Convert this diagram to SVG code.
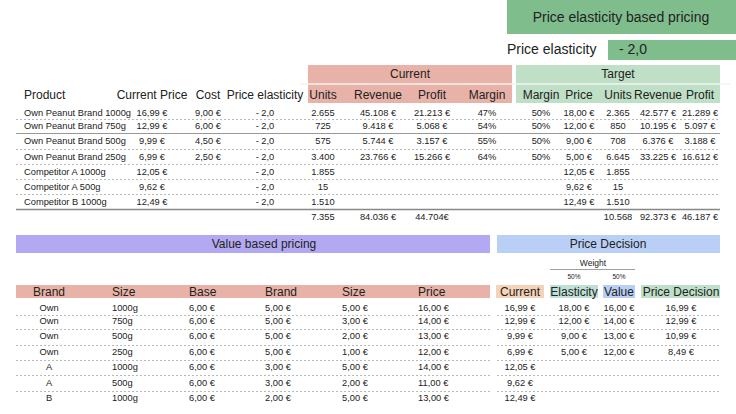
<svg xmlns="http://www.w3.org/2000/svg" width="736" height="414" viewBox="0 0 736 414">
<style>
text{font-family:"Liberation Sans",Arial,sans-serif;fill:#222}
.h{font-size:12px}
.d{font-size:9.3px}
.m{text-anchor:middle}
.r{text-anchor:end}
.ds{stroke:#999;stroke-width:0.7;stroke-dasharray:2,2}
.sl{stroke:#999;stroke-width:1}
</style>
<rect width="736" height="414" fill="#fff"/>
<g id="top">
<rect x="507" y="0" width="229" height="34" fill="#80bd8c"/>
<text x="621" y="22" class="m" style="font-size:14px">Price elasticity based pricing</text>
<text x="507" y="54" style="font-size:14px">Price elasticity</text>
<rect x="608" y="40" width="128" height="20" fill="#80bd8c"/>
<text x="619" y="54" style="font-size:14px">- 2,0</text>
</g>
<g id="table1">
<rect x="308" y="65" width="204" height="38" fill="#e8b2a8"/>
<rect x="516" y="65" width="204" height="38" fill="#bfdfc6"/>
<line x1="300" y1="84" x2="730" y2="84" stroke="#f3f3f3" stroke-width="1.5"/>
<text x="410" y="78" class="h m">Current</text>
<text x="618" y="78" class="h m">Target</text>
<g class="h">
<text x="24" y="99">Product</text>
<text x="152" y="99" class="m">Current Price</text>
<text x="208" y="99" class="m">Cost</text>
<text x="265" y="99" class="m">Price elasticity</text>
<text x="323" y="99" class="m">Units</text>
<text x="378" y="99" class="m">Revenue</text>
<text x="432" y="99" class="m">Profit</text>
<text x="487" y="99" class="m">Margin</text>
<text x="541" y="99" class="m">Margin</text>
<text x="579" y="99" class="m">Price</text>
<text x="618" y="99" class="m">Units</text>
<text x="658" y="99" class="m">Revenue</text>
<text x="700" y="99" class="m">Profit</text>
</g>
<g class="d">
<text x="24" y="116">Own Peanut Brand 1000g</text>
<text x="24" y="129">Own Peanut Brand 750g</text>
<text x="24" y="144">Own Peanut Brand 500g</text>
<text x="24" y="160">Own Peanut Brand 250g</text>
<text x="24" y="175">Competitor A 1000g</text>
<text x="24" y="190">Competitor  A 500g</text>
<text x="24" y="205">Competitor B 1000g</text>
<g class="m">
<text x="152" y="116">16,99 €</text><text x="152" y="129">12,99 €</text><text x="152" y="144">9,99 €</text><text x="152" y="160">6,99 €</text><text x="152" y="175">12,05 €</text><text x="152" y="190">9,62 €</text><text x="152" y="205">12,49 €</text>
<text x="208" y="116">9,00 €</text><text x="208" y="129">6,00 €</text><text x="208" y="144">4,50 €</text><text x="208" y="160">2,50 €</text>
<text x="265" y="116">- 2,0</text><text x="265" y="129">- 2,0</text><text x="265" y="144">- 2,0</text><text x="265" y="160">- 2,0</text><text x="265" y="175">- 2,0</text><text x="265" y="190">- 2,0</text><text x="265" y="205">- 2,0</text>
<text x="323" y="116">2.655</text><text x="323" y="129">725</text><text x="323" y="144">575</text><text x="323" y="160">3.400</text><text x="323" y="175">1.855</text><text x="323" y="190">15</text><text x="323" y="205">1.510</text><text x="323" y="220">7.355</text>
<text x="378" y="116">45.108 €</text><text x="378" y="129">9.418 €</text><text x="378" y="144">5.744 €</text><text x="378" y="160">23.766 €</text><text x="378" y="220">84.036 €</text>
<text x="432" y="116">21.213 €</text><text x="432" y="129">5.068 €</text><text x="432" y="144">3.157 €</text><text x="432" y="160">15.266 €</text><text x="432" y="220">44.704€</text>
<text x="487" y="116">47%</text><text x="487" y="129">54%</text><text x="487" y="144">55%</text><text x="487" y="160">64%</text>
<text x="541" y="116">50%</text><text x="541" y="129">50%</text><text x="541" y="144">50%</text><text x="541" y="160">50%</text>
<text x="579" y="116">18,00 €</text><text x="579" y="129">12,00 €</text><text x="579" y="144">9,00 €</text><text x="579" y="160">5,00 €</text><text x="579" y="175">12,05 €</text><text x="579" y="190">9,62 €</text><text x="579" y="205">12,49 €</text>
<text x="618" y="116">2.365</text><text x="618" y="129">850</text><text x="618" y="144">708</text><text x="618" y="160">6.645</text><text x="618" y="175">1.855</text><text x="618" y="190">15</text><text x="618" y="205">1.510</text><text x="618" y="220">10.568</text>
<text x="658" y="116">42.577 €</text><text x="658" y="129">10.195 €</text><text x="658" y="144">6.376 €</text><text x="658" y="160">33.225 €</text><text x="658" y="220">92.373 €</text>
<text x="700" y="116">21.289 €</text><text x="700" y="129">5.097 €</text><text x="700" y="144">3.188 €</text><text x="700" y="160">16.612 €</text><text x="700" y="220">46.187 €</text>
</g>
</g>
<line x1="16" y1="119.5" x2="720" y2="119.5" class="ds"/>
<line x1="16" y1="133.5" x2="720" y2="133.5" class="sl"/>
<line x1="16" y1="149.5" x2="720" y2="149.5" class="ds"/>
<line x1="16" y1="164.5" x2="720" y2="164.5" class="ds"/>
<line x1="16" y1="179.5" x2="720" y2="179.5" class="ds"/>
<line x1="16" y1="194.5" x2="720" y2="194.5" class="ds"/>
<line x1="16" y1="209.5" x2="720" y2="209.5" stroke="#888" stroke-width="1.5"/>
</g>
<g id="value">
<rect x="16" y="235" width="474" height="18" fill="#b3a9f2"/>
<text x="264" y="248" class="h m">Value based pricing</text>
<rect x="16" y="285" width="474" height="13" fill="#e8b2a8"/>
<g class="h">
<text x="49" y="295.5" class="m">Brand</text>
<text x="112" y="295.5">Size</text>
<text x="189" y="295.5">Base</text>
<text x="265" y="295.5">Brand</text>
<text x="342" y="295.5">Size</text>
<text x="418" y="295.5">Price</text>
</g>
<g class="d">
<g class="m"><text x="49" y="311">Own</text><text x="49" y="324">Own</text><text x="49" y="339">Own</text><text x="49" y="355">Own</text><text x="49" y="370">A</text><text x="49" y="386">A</text><text x="49" y="401">B</text></g>
<text x="112" y="311">1000g</text><text x="112" y="324">750g</text><text x="112" y="339">500g</text><text x="112" y="355">250g</text><text x="112" y="370">1000g</text><text x="112" y="386">500g</text><text x="112" y="401">1000g</text>
<text x="189" y="311">6,00 €</text><text x="189" y="324">6,00 €</text><text x="189" y="339">6,00 €</text><text x="189" y="355">6,00 €</text><text x="189" y="370">6,00 €</text><text x="189" y="386">6,00 €</text><text x="189" y="401">6,00 €</text>
<text x="265" y="311">5,00 €</text><text x="265" y="324">5,00 €</text><text x="265" y="339">5,00 €</text><text x="265" y="355">5,00 €</text><text x="265" y="370">3,00 €</text><text x="265" y="386">3,00 €</text><text x="265" y="401">2,00 €</text>
<text x="342" y="311">5,00 €</text><text x="342" y="324">3,00 €</text><text x="342" y="339">2,00 €</text><text x="342" y="355">1,00 €</text><text x="342" y="370">5,00 €</text><text x="342" y="386">2,00 €</text><text x="342" y="401">5,00 €</text>
<text x="418" y="311">16,00 €</text><text x="418" y="324">14,00 €</text><text x="418" y="339">13,00 €</text><text x="418" y="355">12,00 €</text><text x="418" y="370">14,00 €</text><text x="418" y="386">11,00 €</text><text x="418" y="401">13,00 €</text>
</g>
<line x1="16" y1="315.5" x2="490" y2="315.5" class="ds"/>
<line x1="16" y1="329.5" x2="490" y2="329.5" class="ds"/>
<line x1="16" y1="345.5" x2="490" y2="345.5" class="ds"/>
<line x1="16" y1="360.5" x2="490" y2="360.5" class="ds"/>
<line x1="16" y1="375.5" x2="490" y2="375.5" class="ds"/>
<line x1="16" y1="391.5" x2="490" y2="391.5" class="ds"/>
</g>
<g id="decision">
<rect x="497" y="235" width="223" height="18" fill="#b9cff5"/>
<text x="608" y="248" class="h m">Price Decision</text>
<text x="593" y="266" class="m" style="font-size:8.5px">Weight</text>
<line x1="550" y1="269.5" x2="635" y2="269.5" stroke="#888" stroke-width="0.8"/>
<text x="574" y="279" class="m" style="font-size:6.5px">50%</text>
<text x="619" y="279" class="m" style="font-size:6.5px">50%</text>
<rect x="496" y="285" width="48" height="13" fill="#f5d3b8"/>
<rect x="550" y="285" width="48" height="13" fill="#bfe0d6"/>
<rect x="603" y="285" width="32" height="13" fill="#b9cff5"/>
<rect x="641" y="285" width="79" height="13" fill="#bfe0c8"/>
<g class="h m">
<text x="520" y="295.5">Current</text><text x="574" y="295.5">Elasticity</text><text x="619" y="295.5">Value</text><text x="681" y="295.5">Price Decision</text>
</g>
<g class="d m">
<text x="520" y="311">16,99 €</text><text x="520" y="324">12,99 €</text><text x="520" y="339">9,99 €</text><text x="520" y="355">6,99 €</text><text x="520" y="370">12,05 €</text><text x="520" y="386">9,62 €</text><text x="520" y="401">12,49 €</text>
<text x="574" y="311">18,00 €</text><text x="574" y="324">12,00 €</text><text x="574" y="339">9,00 €</text><text x="574" y="355">5,00 €</text>
<text x="619" y="311">16,00 €</text><text x="619" y="324">14,00 €</text><text x="619" y="339">13,00 €</text><text x="619" y="355">12,00 €</text>
<text x="681" y="311">16,99 €</text><text x="681" y="324">12,99 €</text><text x="681" y="339">10,99 €</text><text x="681" y="355">8,49 €</text>
</g>
<line x1="497" y1="315.5" x2="720" y2="315.5" class="ds"/>
<line x1="497" y1="329.5" x2="720" y2="329.5" class="ds"/>
<line x1="497" y1="345.5" x2="720" y2="345.5" class="ds"/>
<line x1="497" y1="360.5" x2="720" y2="360.5" class="ds"/>
<line x1="497" y1="375.5" x2="720" y2="375.5" class="ds"/>
<line x1="497" y1="391.5" x2="720" y2="391.5" class="ds"/>
</g>
</svg>
